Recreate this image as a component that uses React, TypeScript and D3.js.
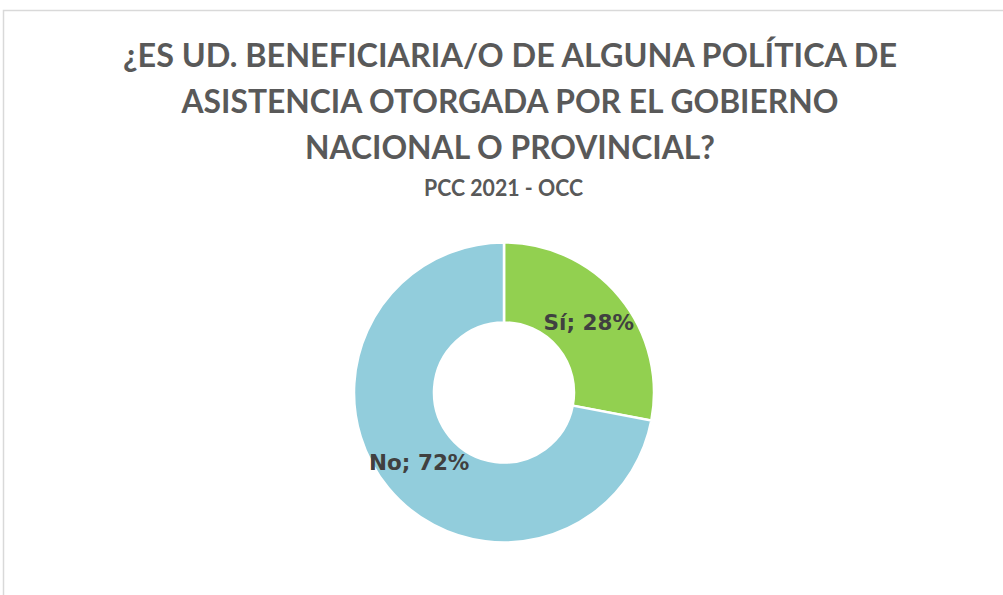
import React, { useRef, useEffect } from 'react';
import * as d3 from 'd3';

const categories = ['Sí', 'No'];
const values = [28, 72];
const colors = ['#92D050', '#92CDDC'];
const titleLines = [
  '¿ES UD. BENEFICIARIA/O DE ALGUNA POLÍTICA DE',
  'ASISTENCIA OTORGADA POR EL GOBIERNO',
  'NACIONAL O PROVINCIAL?',
];
const subtitle = 'PCC 2021 - OCC';

const W = 1003;
const H = 595;

export default function App() {
  const svgRef = useRef<SVGSVGElement>(null);

  useEffect(() => {
    const svg = d3.select(svgRef.current);
    svg.selectAll('*').remove();

    // chart area border (right/bottom run off the page)
    svg.append('rect')
      .attr('x', 3.5).attr('y', 10.5)
      .attr('width', 1100).attr('height', 700)
      .attr('fill', '#fff')
      .attr('stroke', '#d9d9d9')
      .attr('stroke-width', 1.5);

    // title, widths matched to the reference
    const lineWidths = [774, 657, 410];
    const titleBase = [67, 113, 159];
    titleLines.forEach((t, i) => {
      svg.append('text')
        .attr('x', 510)
        .attr('y', titleBase[i])
        .attr('text-anchor', 'middle')
        .attr('font-family', 'Lato, "Open Sans", sans-serif')
        .attr('font-weight', 700)
        .attr('font-size', 32.5)
        .attr('fill', '#595959')
        .attr('textLength', lineWidths[i])
        .attr('lengthAdjust', 'spacingAndGlyphs')
        .text(t);
    });

    svg.append('text')
      .attr('x', 503.5)
      .attr('y', 196)
      .attr('text-anchor', 'middle')
      .attr('font-family', 'Lato, "Open Sans", sans-serif')
      .attr('font-weight', 700)
      .attr('font-size', 22)
      .attr('fill', '#595959')
      .attr('textLength', 159)
      .attr('lengthAdjust', 'spacingAndGlyphs')
      .text(subtitle);

    // donut
    const cx = 504;
    const cy = 392.5;
    const outerR = 150;
    const innerR = 70;

    const pie = d3.pie<number>().sort(null).value(d => d);
    const arcs = pie(values);
    const arc = d3.arc<d3.PieArcDatum<number>>()
      .innerRadius(innerR)
      .outerRadius(outerR);

    const g = svg.append('g').attr('transform', `translate(${cx},${cy})`);

    g.selectAll('path')
      .data(arcs)
      .join('path')
      .attr('d', arc)
      .attr('fill', (_, i) => colors[i])
      .attr('stroke', '#fff')
      .attr('stroke-width', 2.5);

    g.selectAll('text.lbl')
      .data(arcs)
      .join('text')
      .attr('class', 'lbl')
      .attr('transform', d => {
        const [x, y] = arc.centroid(d);
        return `translate(${x},${y})`;
      })
      .attr('dy', '0.36em')
      .attr('text-anchor', 'middle')
      .attr('font-family', '"DejaVu Sans", sans-serif')
      .attr('font-weight', 700)
      .attr('font-size', 21.5)
      .attr('fill', '#404040')
      .text((d, i) => `${categories[i]}; ${d.data}%`);
  }, []);

  return (
    <div style={{ position: 'absolute', left: 0, top: 0 }}>
      <svg ref={svgRef} width={W} height={H} style={{ display: 'block' }} />
    </div>
  );
}
